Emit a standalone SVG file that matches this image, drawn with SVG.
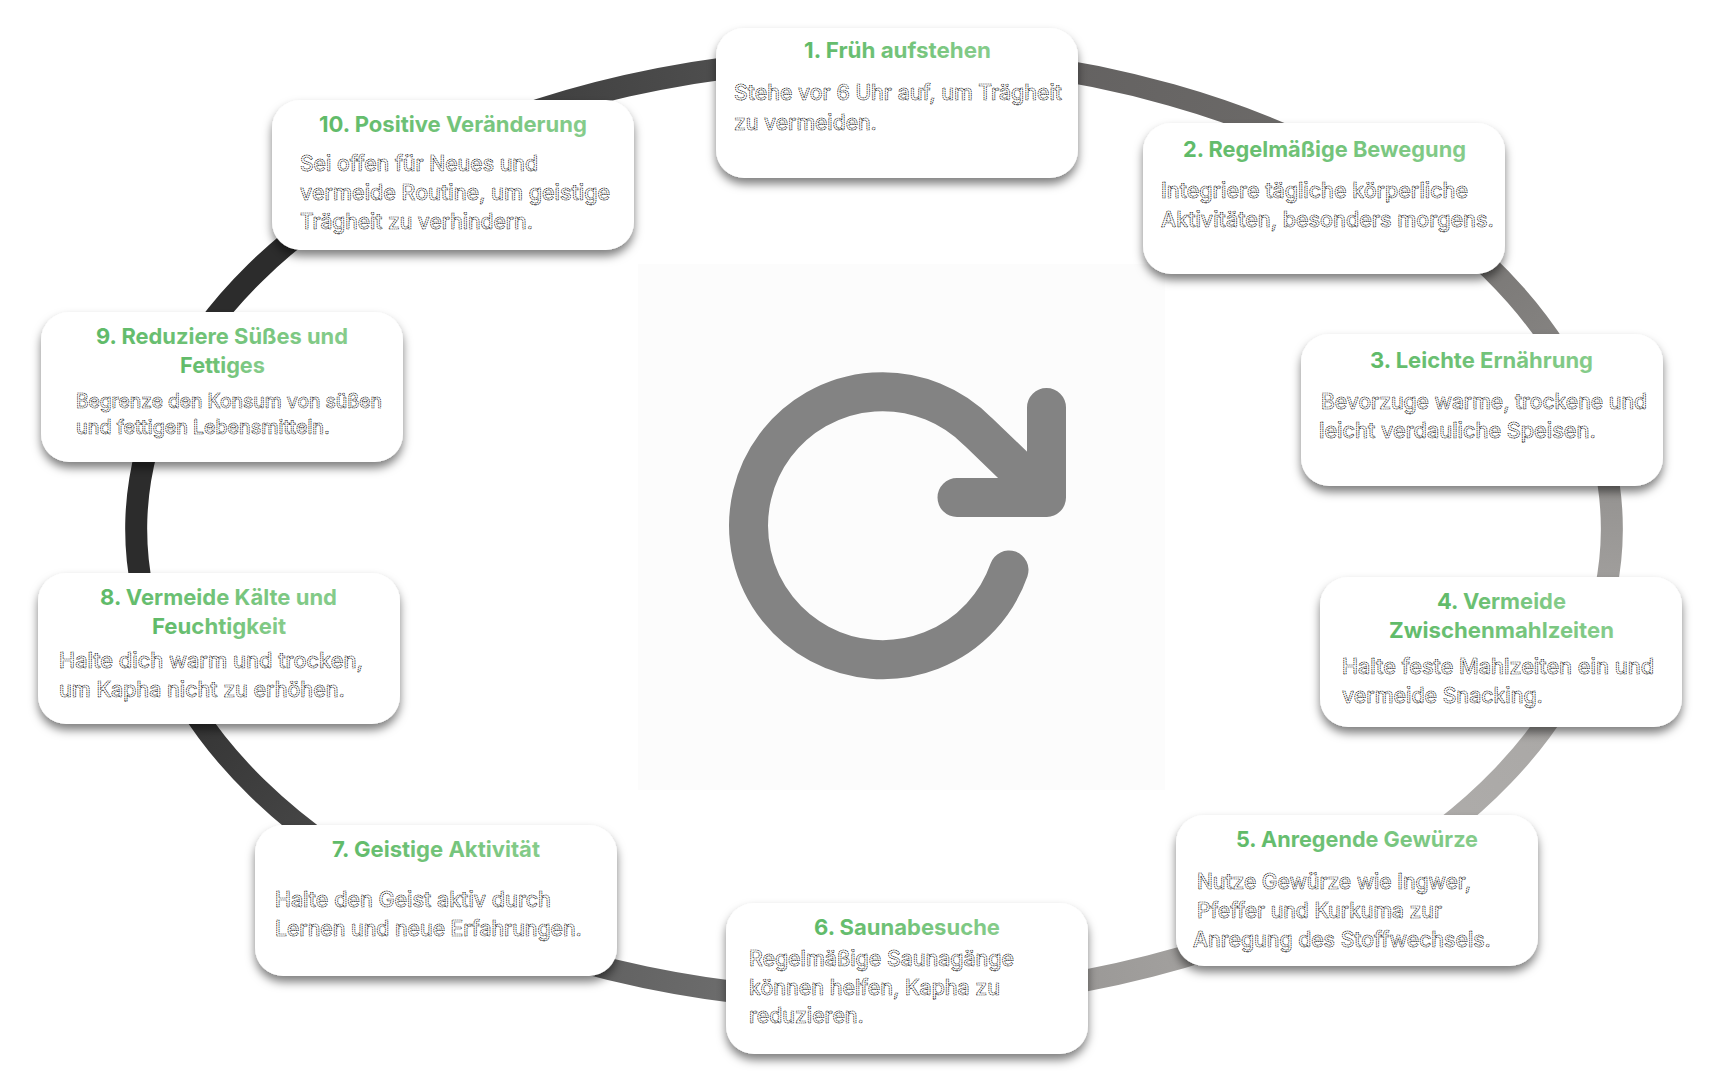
<svg xmlns="http://www.w3.org/2000/svg" width="1728" height="1080" viewBox="0 0 1728 1080">
<style>
.card{fill:#fff;filter:url(#shadow)}
.title{font:700 22px "Inter","Liberation Sans",sans-serif;fill:url(#titleFill)}
.body{font:500 21px "Inter","Liberation Sans",sans-serif;fill:#fff;stroke:#000;stroke-width:.68;stroke-dasharray:1.5 .7}
.small{font-size:20px}
.arc{fill:none;stroke-width:22}
</style>
<defs>
<filter id="shadow" x="-10%" y="-15%" width="120%" height="140%"><feDropShadow dx="0" dy="6" stdDeviation="5" flood-color="#000" flood-opacity=".5"/></filter>
<linearGradient id="titleFill" x1="0" y1="0" x2="1" y2="0"><stop offset="0" stop-color="#5fba68"/><stop offset="1" stop-color="#86cc8b"/></linearGradient>
<linearGradient id="g1" gradientUnits="userSpaceOnUse" x1="900" y1="55" x2="1400" y2="196"><stop offset="0" stop-color="#5e5c5c"/><stop offset="1" stop-color="#706e6c"/></linearGradient>
<linearGradient id="g2" gradientUnits="userSpaceOnUse" x1="1400" y1="196" x2="1588" y2="410"><stop offset="0" stop-color="#706e6c"/><stop offset="1" stop-color="#8c8a88"/></linearGradient>
<linearGradient id="g3" gradientUnits="userSpaceOnUse" x1="1588" y1="410" x2="1587" y2="650"><stop offset="0" stop-color="#8c8a88"/><stop offset="1" stop-color="#a8a6a4"/></linearGradient>
<linearGradient id="g4" gradientUnits="userSpaceOnUse" x1="1587" y1="650" x2="1367" y2="880"><stop offset="0" stop-color="#a8a6a4"/><stop offset="1" stop-color="#b0aeac"/></linearGradient>
<linearGradient id="g5" gradientUnits="userSpaceOnUse" x1="1367" y1="880" x2="900" y2="1000"><stop offset="0" stop-color="#b0aeac"/><stop offset="1" stop-color="#8e8c8a"/></linearGradient>
<linearGradient id="g6" gradientUnits="userSpaceOnUse" x1="900" y1="1000" x2="418" y2="900"><stop offset="0" stop-color="#7a7a7a"/><stop offset="1" stop-color="#525252"/></linearGradient>
<linearGradient id="g7" gradientUnits="userSpaceOnUse" x1="418" y1="900" x2="161" y2="650"><stop offset="0" stop-color="#525252"/><stop offset="1" stop-color="#2e2e2e"/></linearGradient>
<linearGradient id="g10" gradientUnits="userSpaceOnUse" x1="388" y1="175" x2="900" y2="59"><stop offset="0" stop-color="#333"/><stop offset="1" stop-color="#5c5c5c"/></linearGradient>
</defs>
<rect width="1728" height="1080" fill="#fff"/>
<rect id="panel" x="638" y="264" width="527" height="526" fill="#fcfcfc"/>
<g id="connectors">
<path class="arc" stroke="url(#g1)" d="M900 55A738 475 0 0 1 1400 196.5"/>
<path class="arc" stroke="url(#g2)" d="M1400 196.5A738 475 0 0 1 1588 410"/>
<path class="arc" stroke="url(#g3)" d="M1588 410A738 471 0 0 1 1587 650"/>
<path class="arc" stroke="url(#g4)" d="M1587 650A738 471 0 0 1 1367 880"/>
<path class="arc" stroke="url(#g5)" d="M1367 880A738 471 0 0 1 900 1000"/>
<path class="arc" stroke="url(#g6)" d="M900 1000A738 471 0 0 1 418 900"/>
<path class="arc" stroke="url(#g7)" d="M418 900A738 471 0 0 1 161 650"/>
<path class="arc" stroke="#2c2c2c" d="M161 650A738 471 0 0 1 169 390"/>
<path class="arc" stroke="#2c2c2c" d="M169 390A738 471 0 0 1 388 175"/>
<path class="arc" stroke="url(#g10)" d="M388 175A738 471 0 0 1 900 59"/>
</g>
<g id="icon"><path d="M1009 570A134 134 0 1 1 978.2 431.8L1046.5 497.5M957 497.5H1046.5V407.5" fill="none" stroke="#838383" stroke-width="39" stroke-linecap="round" stroke-linejoin="round"/></g>
<g id="node1"><rect class="card" x="716" y="28" width="362" height="150" rx="28"/>
<text class="title" x="804" y="58" textLength="187" lengthAdjust="spacingAndGlyphs">1. Früh aufstehen</text>
<text class="body" x="734" y="100" textLength="328" lengthAdjust="spacingAndGlyphs">Stehe vor 6 Uhr auf, um Trägheit</text>
<text class="body" x="734" y="130" textLength="143" lengthAdjust="spacingAndGlyphs">zu vermeiden.</text></g>
<g id="node2"><rect class="card" x="1143" y="123" width="362" height="151" rx="28"/>
<text class="title" x="1183" y="157" textLength="283" lengthAdjust="spacingAndGlyphs">2. Regelmäßige Bewegung</text>
<text class="body" x="1161" y="198" textLength="307" lengthAdjust="spacingAndGlyphs">Integriere tägliche körperliche</text>
<text class="body" x="1161" y="227" textLength="333" lengthAdjust="spacingAndGlyphs">Aktivitäten, besonders morgens.</text></g>
<g id="node3"><rect class="card" x="1301" y="334" width="362" height="152" rx="28"/>
<text class="title" x="1370" y="368" textLength="223" lengthAdjust="spacingAndGlyphs">3. Leichte Ernährung</text>
<text class="body" x="1321" y="409" textLength="326" lengthAdjust="spacingAndGlyphs">Bevorzuge warme, trockene und</text>
<text class="body" x="1319" y="438" textLength="277" lengthAdjust="spacingAndGlyphs">leicht verdauliche Speisen.</text></g>
<g id="node4"><rect class="card" x="1320" y="577" width="362" height="150" rx="28"/>
<text class="title" x="1437" y="609" textLength="129" lengthAdjust="spacingAndGlyphs">4. Vermeide</text>
<text class="title" x="1389" y="638" textLength="225" lengthAdjust="spacingAndGlyphs">Zwischenmahlzeiten</text>
<text class="body" x="1342" y="674" textLength="312" lengthAdjust="spacingAndGlyphs">Halte feste Mahlzeiten ein und</text>
<text class="body" x="1342" y="703" textLength="201" lengthAdjust="spacingAndGlyphs">vermeide Snacking.</text></g>
<g id="node5"><rect class="card" x="1176" y="815" width="362" height="151" rx="28"/>
<text class="title" x="1236" y="847" textLength="242" lengthAdjust="spacingAndGlyphs">5. Anregende Gewürze</text>
<text class="body" x="1197" y="889" textLength="274" lengthAdjust="spacingAndGlyphs">Nutze Gewürze wie Ingwer,</text>
<text class="body" x="1197" y="918" textLength="245" lengthAdjust="spacingAndGlyphs">Pfeffer und Kurkuma zur</text>
<text class="body" x="1193" y="947" textLength="298" lengthAdjust="spacingAndGlyphs">Anregung des Stoffwechsels.</text></g>
<g id="node6"><rect class="card" x="726" y="903" width="362" height="151" rx="28"/>
<text class="title" x="814" y="935" textLength="186" lengthAdjust="spacingAndGlyphs">6. Saunabesuche</text>
<text class="body" x="749" y="966" textLength="265" lengthAdjust="spacingAndGlyphs">Regelmäßige Saunagänge</text>
<text class="body" x="749" y="995" textLength="251" lengthAdjust="spacingAndGlyphs">können helfen, Kapha zu</text>
<text class="body" x="749" y="1023" textLength="115" lengthAdjust="spacingAndGlyphs">reduzieren.</text></g>
<g id="node7"><rect class="card" x="255" y="825" width="362" height="151" rx="28"/>
<text class="title" x="332" y="857" textLength="208" lengthAdjust="spacingAndGlyphs">7. Geistige Aktivität</text>
<text class="body" x="275" y="907" textLength="276" lengthAdjust="spacingAndGlyphs">Halte den Geist aktiv durch</text>
<text class="body" x="275" y="936" textLength="307" lengthAdjust="spacingAndGlyphs">Lernen und neue Erfahrungen.</text></g>
<g id="node8"><rect class="card" x="38" y="573" width="362" height="151" rx="28"/>
<text class="title" x="100" y="605" textLength="237" lengthAdjust="spacingAndGlyphs">8. Vermeide Kälte und</text>
<text class="title" x="152" y="634" textLength="134" lengthAdjust="spacingAndGlyphs">Feuchtigkeit</text>
<text class="body" x="59" y="668" textLength="304" lengthAdjust="spacingAndGlyphs">Halte dich warm und trocken,</text>
<text class="body" x="59" y="697" textLength="286" lengthAdjust="spacingAndGlyphs">um Kapha nicht zu erhöhen.</text></g>
<g id="node9"><rect class="card" x="41" y="312" width="362" height="150" rx="28"/>
<text class="title" x="96" y="344" textLength="252" lengthAdjust="spacingAndGlyphs">9. Reduziere Süßes und</text>
<text class="title" x="180" y="373" textLength="85" lengthAdjust="spacingAndGlyphs">Fettiges</text>
<text class="body small" x="76" y="408" textLength="306" lengthAdjust="spacingAndGlyphs">Begrenze den Konsum von süßen</text>
<text class="body small" x="76" y="434" textLength="254" lengthAdjust="spacingAndGlyphs">und fettigen Lebensmitteln.</text></g>
<g id="node10"><rect class="card" x="272" y="100" width="362" height="150" rx="28"/>
<text class="title" x="319" y="132" textLength="268" lengthAdjust="spacingAndGlyphs">10. Positive Veränderung</text>
<text class="body" x="300" y="171" textLength="238" lengthAdjust="spacingAndGlyphs">Sei offen für Neues und</text>
<text class="body" x="300" y="200" textLength="310" lengthAdjust="spacingAndGlyphs">vermeide Routine, um geistige</text>
<text class="body" x="300" y="229" textLength="233" lengthAdjust="spacingAndGlyphs">Trägheit zu verhindern.</text></g>
</svg>
